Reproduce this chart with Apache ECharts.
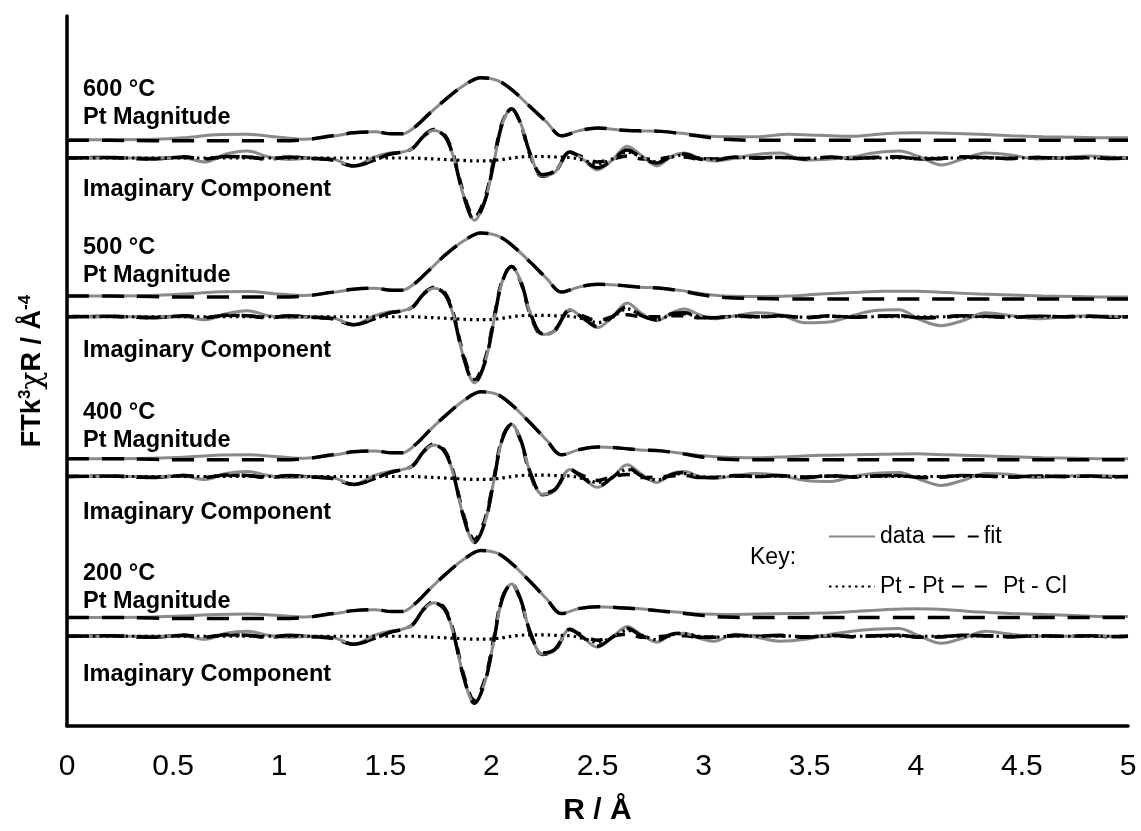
<!DOCTYPE html>
<html><head><meta charset="utf-8">
<script src="https://cdn.jsdelivr.net/npm/echarts@6/dist/echarts.min.js"></script>
<style>html,body{margin:0;padding:0;background:#fff}#c{width:1141px;height:831px}</style>
</head><body><div id="c"></div>
<script>
// ---------- DATA ----------
const X_TICK_LABELS = ['0','0.5','1','1.5','2','2.5','3','3.5','4','4.5','5'];
const TEMPS = ['600 °C','500 °C','400 °C','200 °C'];

const R_MAG = [0,0.2,0.4,0.55,0.7,0.85,1.0,1.12,1.25,1.35, 1.45,1.53,1.58,1.64,1.71,1.79,1.87,1.95,2.03,2.10, 2.18,2.26,2.33,2.41,2.5,2.6,2.7,2.8,2.9,3.0, 3.1,3.25,3.4,3.55,3.7,3.85,4.0,4.15,4.3,4.45, 4.6,4.75,4.9,5.0];
const R_IM = [0,0.2,0.4,0.55,0.65,0.75,0.85,0.95,1.05,1.15, 1.25,1.35,1.45,1.52,1.58,1.63,1.68,1.73,1.78,1.82, 1.87,1.92,1.97,2.01,2.05,2.095,2.14,2.18,2.24,2.30, 2.37,2.43,2.50,2.57,2.64,2.71,2.78,2.85,2.91,2.98, 3.05,3.15,3.25,3.36,3.48,3.6,3.7,3.8,3.92,4.02, 4.12,4.22,4.33,4.45,4.57,4.7,4.82,4.92,5.0];

// 600 °C
const mag600Data = [0,0,0.05,0.2,0.5,0.55,0.25,0.05,0.35,0.7, 0.8,0.6,0.6,1.3,2.7,4.2,5.5,6.3,6.0,5.0, 3.4,1.8,0.4,0.9,1.2,1.0,0.9,0.85,0.65,0.4, 0.3,0.3,0.55,0.45,0.35,0.6,0.7,0.65,0.55,0.4, 0.3,0.25,0.2,0.2];
const mag600Fit  = [-0.05,-0.05,-0.1,-0.1,-0.1,-0.1,-0.1,0.0,0.4,0.7, 0.8,0.6,0.6,1.3,2.7,4.2,5.5,6.3,6.0,5.0, 3.4,1.8,0.4,0.9,1.2,1.0,0.9,0.85,0.6,0.3, 0.05,-0.05,-0.05,-0.05,-0.05,-0.05,-0.05,-0.05,-0.05,-0.05, -0.05,-0.05,-0.05,-0.05];
const im600Data = [0,0,0,0,-0.4,0.4,0.7,0.1,-0.15,0, -0.1,-0.8,0.1,0.5,0.6,1.0,2.2,2.8,2.2,0.2, -3.9,-6.3,-4.3,-0.6,3.4,5.0,3.4,0.6,-1.8,-1.4, 0.6,-0.1,-1.2,-0.2,1.2,0.2,-0.8,0.2,0.5,0.0, -0.3,0.0,0.35,0.5,-0.2,-0.1,0.1,0.5,0.7,0.1, -0.7,-0.1,0.5,0.3,-0.1,0.05,0.2,0.1,0];
const im600Fit  = [0,0.05,-0.1,0.1,-0.1,0.15,0.1,-0.1,0.1,-0.05, -0.2,-0.8,-0.2,0.4,0.6,1.0,2.2,2.8,2.2,0.2, -3.9,-6.3,-4.3,-0.6,3.4,5.0,3.4,0.6,-1.7,-1.3, 0.6,-0.1,-1.0,-0.2,0.8,0.0,-0.5,0.2,0.4,-0.1, -0.2,0.1,0.0,0.1,-0.1,0.1,-0.05,0.05,0.1,-0.1, -0.05,0.1,0.05,-0.05,0.05,0.0,0.05,-0.05,0];
const im600PtPt = [0,0,0,0,0,0,0,0,0,0, 0,0,0,0,0,0,-0.05,-0.1,-0.15,-0.2, -0.25,-0.3,-0.3,-0.25,-0.15,0,0.1,0.15,0.15,0.1, 0.05,-0.2,-0.6,-0.1,0.6,0.1,-0.4,0.1,0.3,0.0, -0.1,0.05,0,0.05,-0.05,0.05,0,0,0,0, 0,0,0,0,0,0,0,0,0];
const im600PtCl = [0,0.05,-0.1,0.1,-0.1,0.15,0.1,-0.1,0.1,-0.05, -0.2,-0.8,-0.2,0.4,0.6,1.0,2.25,2.9,2.35,0.4, -3.65,-6.0,-4.0,-0.35,3.55,5.0,3.3,0.45,-1.85,-1.4, 0.55,0.1,-0.4,-0.1,0.2,-0.1,-0.1,0.1,0.1,-0.1, -0.1,0.05,0,0.05,-0.05,0.05,-0.05,0.05,0.1,-0.1, -0.05,0.1,0.05,-0.05,0.05,0,0.05,-0.05,0];

// 500 °C
const mag500Data = [0,0,0.05,0.2,0.4,0.45,0.2,0.05,0.35,0.7, 0.8,0.6,0.6,1.3,2.7,4.3,5.6,6.4,6.1,5.1, 3.5,1.8,0.4,0.9,1.2,1.1,0.9,0.8,0.55,0.2, 0.0,-0.05,0.0,0.2,0.35,0.5,0.5,0.35,0.2,0.1, 0.0,-0.05,-0.1,-0.1];
const mag500Fit  = [0,0,-0.05,-0.1,-0.1,-0.1,-0.1,0.0,0.4,0.7, 0.8,0.6,0.6,1.3,2.7,4.3,5.6,6.4,6.1,5.1, 3.5,1.8,0.4,0.9,1.2,1.1,0.9,0.8,0.5,0.1, -0.15,-0.25,-0.3,-0.3,-0.3,-0.3,-0.3,-0.3,-0.3,-0.3, -0.3,-0.3,-0.3,-0.3];
const im500Data = [0,0,0,0,-0.3,0.3,0.6,0.1,-0.1,0, -0.1,-0.8,0.1,0.5,0.6,1.0,2.3,2.9,2.3,0.2, -4.2,-6.7,-4.6,-0.6,3.5,5.1,3.5,0.6,-1.8,-1.4, 0.7,-0.1,-1.1,0.0,1.4,0.3,-0.4,0.4,0.8,0.2, -0.2,0.1,0.4,0.2,-0.6,-0.5,0.1,0.6,0.7,-0.3, -0.9,-0.4,0.4,0.1,-0.2,0.0,0.1,0.05,0];
const im500Fit  = [0,0.05,-0.1,0.1,-0.1,0.15,0.1,-0.1,0.1,-0.05, -0.2,-0.8,-0.2,0.4,0.6,1.0,2.3,2.9,2.3,0.2, -4.2,-6.7,-4.6,-0.6,3.5,5.1,3.5,0.6,-1.7,-1.3, 0.7,-0.1,-1.0,0.0,1.0,0.1,-0.3,0.3,0.4,0.0, -0.1,0.1,0.0,0.1,-0.1,0.1,-0.05,0.05,0.1,-0.1, -0.05,0.1,0.05,-0.05,0.05,0.0,0.05,-0.05,0];
const im500PtPt = [0,0,0,0,0,0,0,0,0,0, 0,0,0,0,0,0,-0.05,-0.1,-0.15,-0.2, -0.25,-0.3,-0.3,-0.25,-0.15,0,0.1,0.15,0.15,0.1, 0.05,-0.2,-0.6,0.0,0.8,0.1,-0.3,0.2,0.3,0.0, -0.1,0.05,0,0.05,-0.05,0.05,0,0,0,0, 0,0,0,0,0,0,0,0,0];
const im500PtCl = [0,0.05,-0.1,0.1,-0.1,0.15,0.1,-0.1,0.1,-0.05, -0.2,-0.8,-0.2,0.4,0.6,1.0,2.35,3.0,2.45,0.4, -3.95,-6.4,-4.3,-0.35,3.65,5.1,3.4,0.45,-1.85,-1.4, 0.65,0.1,-0.4,0.0,0.2,0.0,0.0,0.1,0.1,-0.1, -0.1,0.05,0,0.05,-0.05,0.05,-0.05,0.05,0.1,-0.1, -0.05,0.1,0.05,-0.05,0.05,0,0.05,-0.05,0];

// 400 °C
const mag400Data = [0,0,0.05,0.15,0.35,0.4,0.2,0.05,0.35,0.7, 0.8,0.6,0.6,1.4,2.9,4.5,5.9,6.8,6.5,5.4, 3.7,1.9,0.4,0.9,1.2,1.1,0.9,0.8,0.55,0.3, 0.15,0.1,0.2,0.35,0.4,0.45,0.5,0.4,0.3,0.2, 0.1,0.05,0.0,0.0];
const mag400Fit  = [0,0,-0.05,-0.1,-0.1,-0.1,-0.1,0.0,0.4,0.7, 0.8,0.6,0.6,1.4,2.9,4.5,5.9,6.8,6.5,5.4, 3.7,1.9,0.4,0.9,1.2,1.1,0.9,0.8,0.5,0.15, -0.05,-0.1,-0.1,-0.1,-0.1,-0.1,-0.1,-0.1,-0.1,-0.1, -0.1,-0.1,-0.1,-0.1];
const im400Data = [0,0,0,0,-0.3,0.3,0.5,0.1,-0.1,0, -0.1,-0.8,0.1,0.5,0.7,1.1,2.5,3.2,2.5,0.3, -4.2,-6.7,-4.6,-0.6,3.7,5.3,3.6,0.6,-1.8,-1.4, 0.7,-0.1,-1.1,-0.1,1.2,0.2,-0.6,0.3,0.5,0.0, -0.2,0.1,0.3,0.1,-0.4,-0.5,0.0,0.3,0.4,-0.3, -0.9,-0.4,0.3,0.2,-0.1,0.05,0.1,0.05,0];
const im400Fit  = [0,0.05,-0.1,0.1,-0.1,0.15,0.1,-0.1,0.1,-0.05, -0.2,-0.8,-0.2,0.4,0.7,1.1,2.5,3.2,2.5,0.3, -4.2,-6.7,-4.6,-0.6,3.7,5.3,3.6,0.6,-1.7,-1.3, 0.7,-0.1,-1.0,-0.1,0.9,0.0,-0.4,0.2,0.4,-0.1, -0.1,0.1,0.0,0.1,-0.1,0.1,-0.05,0.05,0.1,-0.1, -0.05,0.1,0.05,-0.05,0.05,0.0,0.05,-0.05,0];
const im400PtPt = [0,0,0,0,0,0,0,0,0,0, 0,0,0,0,0,0,-0.05,-0.1,-0.15,-0.2, -0.25,-0.3,-0.3,-0.25,-0.15,0,0.1,0.15,0.15,0.1, 0.05,-0.2,-0.6,-0.1,0.7,0.1,-0.35,0.15,0.3,0.0, -0.1,0.05,0,0.05,-0.05,0.05,0,0,0,0, 0,0,0,0,0,0,0,0,0];
const im400PtCl = [0,0.05,-0.1,0.1,-0.1,0.15,0.1,-0.1,0.1,-0.05, -0.2,-0.8,-0.2,0.4,0.7,1.1,2.55,3.3,2.65,0.5, -3.95,-6.4,-4.3,-0.35,3.85,5.3,3.5,0.45,-1.85,-1.4, 0.65,0.1,-0.4,0.0,0.2,-0.1,-0.05,0.05,0.1,-0.1, -0.1,0.05,0,0.05,-0.05,0.05,-0.05,0.05,0.1,-0.1, -0.05,0.1,0.05,-0.05,0.05,0,0.05,-0.05,0];

// 200 °C
const mag200Data = [0,0,0.05,0.15,0.3,0.35,0.2,0.05,0.35,0.7, 0.8,0.6,0.6,1.4,2.9,4.5,5.9,6.8,6.5,5.4, 3.7,1.9,0.4,0.9,1.1,1.0,0.9,0.7,0.5,0.35, 0.3,0.35,0.4,0.45,0.6,0.8,0.9,0.8,0.55,0.4, 0.3,0.2,0.1,0.1];
const mag200Fit  = [0,0,-0.05,-0.1,-0.1,-0.1,-0.1,0.0,0.4,0.7, 0.8,0.6,0.6,1.4,2.9,4.5,5.9,6.8,6.5,5.4, 3.7,1.9,0.4,0.9,1.1,1.0,0.85,0.65,0.45,0.2, 0.05,0.0,0.0,0.0,0.0,0.0,0.0,0.0,0.0,0.0, 0.0,0.0,0.0,0.0];
const im200Data = [0,0,0,0,-0.3,0.3,0.5,0.1,-0.1,0, -0.1,-0.8,0.1,0.5,0.7,1.2,2.7,3.4,2.7,0.4, -4.2,-6.8,-4.6,-0.6,3.7,5.3,3.6,0.6,-1.8,-1.4, 0.7,-0.1,-1.1,-0.1,1.0,0.1,-0.6,0.2,0.3,-0.2, -0.5,0.2,-0.1,-0.5,-0.3,0.2,0.5,0.7,0.8,0.0, -0.7,-0.2,0.5,0.2,0.0,0.0,0.05,0.0,0];
const im200Fit  = [0,0.05,-0.1,0.1,-0.1,0.15,0.1,-0.1,0.1,-0.05, -0.2,-0.8,-0.2,0.4,0.7,1.2,2.7,3.4,2.7,0.4, -4.2,-6.8,-4.6,-0.6,3.7,5.3,3.6,0.6,-1.7,-1.3, 0.7,-0.1,-1.0,-0.1,0.8,0.0,-0.4,0.2,0.3,-0.1, -0.1,0.1,0.0,0.1,-0.1,0.1,-0.05,0.05,0.1,-0.1, -0.05,0.1,0.05,-0.05,0.05,0.0,0.05,-0.05,0];
const im200PtPt = [0,0,0,0,0,0,0,0,0,0, 0,0,0,0,0,0,-0.05,-0.1,-0.15,-0.2, -0.25,-0.3,-0.3,-0.25,-0.15,0,0.1,0.15,0.15,0.1, 0.05,-0.2,-0.6,-0.1,0.6,0.1,-0.35,0.15,0.25,0.0, -0.1,0.05,0,0.05,-0.05,0.05,0,0,0,0, 0,0,0,0,0,0,0,0,0];
const im200PtCl = [0,0.05,-0.1,0.1,-0.1,0.15,0.1,-0.1,0.1,-0.05, -0.2,-0.8,-0.2,0.4,0.7,1.2,2.75,3.5,2.85,0.6, -3.95,-6.5,-4.3,-0.35,3.85,5.3,3.5,0.45,-1.85,-1.4, 0.65,0.1,-0.4,0.0,0.2,-0.1,-0.05,0.05,0.05,-0.1, -0.1,0.05,0,0.05,-0.05,0.05,-0.05,0.05,0.1,-0.1, -0.05,0.1,0.05,-0.05,0.05,0,0.05,-0.05,0];

// ---------- LAYOUT (vertical stacking offsets, in y-axis units) ----------
const MAG_OFFSET = [59.45, 43.6, 27.1, 11.0];
const IM_OFFSET  = [57.6, 41.5, 25.3, 9.1];
const Y_MAX = 72, GRID_TOP = 16, GRID_BOTTOM = 95, GRID_LEFT = 67, GRID_RIGHT = 13;

const GROUPS = [
  {mag:[mag600Data, mag600Fit], im:[im600Data, im600Fit, im600PtPt, im600PtCl]},
  {mag:[mag500Data, mag500Fit], im:[im500Data, im500Fit, im500PtPt, im500PtCl]},
  {mag:[mag400Data, mag400Fit], im:[im400Data, im400Fit, im400PtPt, im400PtCl]},
  {mag:[mag200Data, mag200Fit], im:[im200Data, im200Fit, im200PtPt, im200PtCl]}
];

const FONT = '"Liberation Sans", Arial, Helvetica, sans-serif';
const STY = {
  'data':    {lineStyle:{color:'#8a8a8a', width:3}, z:3},
  'fit':     {lineStyle:{color:'#000', width:3.5, type:[22,13]}, z:4},
  'Pt - Pt': {lineStyle:{color:'#000', width:3.2, type:[2.5,4]}, z:5},
  'Pt - Cl': {lineStyle:{color:'#000', width:3.5, type:[12,11]}, z:2}
};

function mk(name, xs, ys, off){
  const s = STY[name];
  return {
    type:'line', name, symbol:'none', smooth:0.35, silent:true,
    data: xs.map((x,i)=>[x, ys[i] + off]),
    lineStyle: Object.assign({cap:'butt'}, s.lineStyle),
    itemStyle: {color: s.lineStyle.color},
    z: s.z, animation:false
  };
}

const series = [];
GROUPS.forEach((g, i) => {
  series.push(mk('data', R_MAG, g.mag[0], MAG_OFFSET[i]));
  series.push(mk('fit',  R_MAG, g.mag[1], MAG_OFFSET[i]));
  series.push(mk('Pt - Cl', R_IM, g.im[3], IM_OFFSET[i]));
  series.push(mk('data', R_IM, g.im[0], IM_OFFSET[i]));
  series.push(mk('fit',  R_IM, g.im[1], IM_OFFSET[i]));
  series.push(mk('Pt - Pt', R_IM, g.im[2], IM_OFFSET[i]));
});

const chart = echarts.init(document.getElementById('c'), null, {renderer:'canvas'});
const plotH = 831 - GRID_TOP - GRID_BOTTOM;
const yPix = v => GRID_TOP + (Y_MAX - v) / Y_MAX * plotH;

const graphics = [];
GROUPS.forEach((g, i) => {
  const yMag = yPix(MAG_OFFSET[i]);
  const yIm = yPix(IM_OFFSET[i]);
  const bold = 'bold 23.5px ' + FONT;
  graphics.push({type:'text', x:83, y:yMag - 52, style:{text:TEMPS[i], font:bold, fill:'#000', verticalAlign:'middle'}});
  graphics.push({type:'text', x:83, y:yMag - 24, style:{text:'Pt Magnitude', font:bold, fill:'#000', verticalAlign:'middle'}});
  graphics.push({type:'text', x:83, y:yIm + 30, style:{text:'Imaginary Component', font:bold, fill:'#000', verticalAlign:'middle'}});
});
graphics.push({type:'text', x:750, y:558, style:{text:'Key:', font:'23px ' + FONT, fill:'#000', verticalAlign:'middle'}});

const legendCommon = {
  left: 823, itemWidth: 46, itemHeight: 14, itemGap: 7, selectedMode: false,
  itemStyle: {opacity: 0, borderWidth: 0},
  textStyle: {fontSize: 23, fontFamily: FONT, color:'#000', width: 100}
};

chart.setOption({
  animation: false,
  backgroundColor: '#fff',
  grid: {left: GRID_LEFT, right: GRID_RIGHT, top: GRID_TOP, bottom: GRID_BOTTOM, containLabel:false},
  xAxis: {
    type:'value', min:0, max:5, interval:0.5,
    axisLine:{onZero:false, lineStyle:{color:'#000', width:3.5}},
    axisTick:{show:false}, splitLine:{show:false},
    axisLabel:{fontSize:30, color:'#000', fontFamily:FONT, margin:26,
      formatter: v => X_TICK_LABELS[Math.round(v/0.5)]},
    name:'R / Å', nameLocation:'middle', nameGap:70,
    nameTextStyle:{fontSize:30, fontWeight:'bold', color:'#000', fontFamily:FONT}
  },
  yAxis: {
    type:'value', min:0, max:Y_MAX,
    axisLine:{show:true, onZero:false, lineStyle:{color:'#000', width:3.5}},
    axisTick:{show:false}, axisLabel:{show:false}, splitLine:{show:false},
    name:'{b|FTk}{sup|3}{c|χ}{b|R / Å}{sup|-4}', nameLocation:'middle', nameRotate:90, nameGap:18,
    nameTextStyle:{color:'#000', fontFamily:FONT,
      rich:{
        b:{fontSize:27, fontWeight:'bold', fontFamily:FONT, color:'#000', lineHeight:32},
        c:{fontSize:30, fontWeight:'normal', fontFamily:'"DejaVu Serif", serif', color:'#000', lineHeight:32},
        sup:{fontSize:17, fontWeight:'bold', fontFamily:FONT, color:'#000', verticalAlign:'top', lineHeight:32}
      }}
  },
  legend: [
    Object.assign({top: 520, data:['data','fit']}, legendCommon),
    Object.assign({top: 570, data:['Pt - Pt','Pt - Cl']}, legendCommon)
  ],
  graphic: graphics,
  series
});
</script>
</body></html>
